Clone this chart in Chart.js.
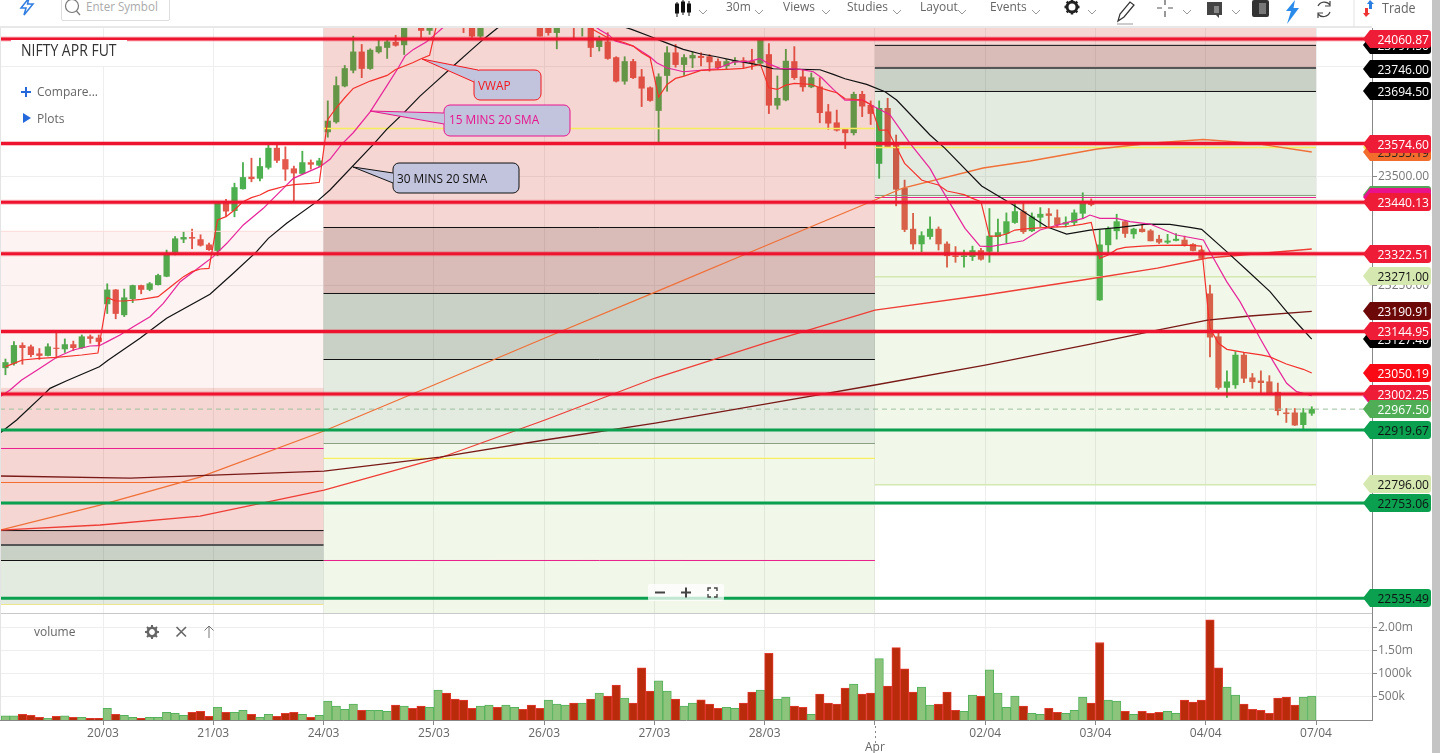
<!DOCTYPE html>
<html><head><meta charset="utf-8"><title>NIFTY APR FUT</title>
<script src="https://cdn.jsdelivr.net/npm/chart.js@4"></script>
<style>
html,body{margin:0;padding:0;background:#fff;width:1440px;height:753px;overflow:hidden;font-family:"Open Sans",sans-serif;color:#666}
#c{position:absolute;left:0;top:0}
.t{position:absolute;white-space:nowrap;font-size:12px;line-height:16px;color:#666;transform:scaleY(1.1);transform-origin:0 50%}
.i{position:absolute;overflow:visible}
#bar{position:absolute;left:1432px;top:0;width:8px;height:753px;background:#c4c4c4}
#tile{position:absolute;left:11px;top:40px;width:116px;height:26px;background:#fff}
#sb{position:absolute;left:61px;top:-6px;width:107px;height:25px;border:1px solid #ddd;border-radius:2px;background:#fff}
#zoomc{position:absolute;left:648px;top:584px;width:76px;height:17px;background:rgba(255,255,255,.75);border-radius:2px}
</style></head><body>
<canvas id="c" width="1440" height="753"></canvas>
<div id="bar"></div>
<div id="sb"></div>
<svg class="i" style="left:18px;top:-3px" width="18" height="20" viewBox="0 0 18 20"><path d="M11 1 L3 11 H8 L6 18 L15 7 H9.5 Z" fill="none" stroke="#2f7de1" stroke-width="1.5"/></svg>
<svg class="i" style="left:64px;top:-2px" width="18" height="18" viewBox="0 0 18 18"><circle cx="8" cy="8" r="6.5" fill="none" stroke="#777" stroke-width="1.2"/><path d="M12.5 13 L16 17" stroke="#777" stroke-width="1.2"/></svg>
<div class="t" style="left:86px;top:-1px;color:#aaa;font-size:11.6px">Enter Symbol</div>
<svg class="i" style="left:674px;top:0" width="18" height="18" viewBox="0 0 18 18"><g fill="#111" stroke="#111"><path d="M3 2V17M9 0V15M15 1V16" fill="none" stroke-width="1"/><rect x="1.5" y="4" width="3" height="9"/><rect x="7.5" y="2" width="3" height="10"/><rect x="13.5" y="4" width="3" height="8"/></g></svg>
<div class="t" style="left:726px;top:-1px">30m</div>
<div class="t" style="left:783px;top:-1px">Views</div>
<div class="t" style="left:847px;top:-1px">Studies</div>
<div class="t" style="left:920px;top:-1px">Layout</div>
<div class="t" style="left:990px;top:-1px">Events</div>
<div class="t" style="left:1382px;top:1px;font-size:12.5px">Trade</div>
<svg class="i" style="left:0;top:0" width="1440" height="28">
<g fill="none" stroke="#999" stroke-width="1"><path d="M699 10l4 4 4-4M755 10l4 4 4-4M822 10l4 4 4-4M893 10l4 4 4-4M958 10l4 4 4-4M1032 10l4 4 4-4M1088 10l4 4 4-4M1183 10l4 4 4-4M1232 10l4 4 4-4"/></g>
<g transform="translate(1072,7)"><circle r="5" fill="none" stroke="#222" stroke-width="3"/><path d="M0-7.5V-5M0 5V7.5M-7.5 0H-5M5 0H7.5M-5.3-5.3L-3.5-3.5M3.5 3.5L5.3 5.3M-5.3 5.3L-3.5 3.5M3.5-3.5L5.3-5.3" stroke="#222" stroke-width="2.4"/></g>
<path d="M1118 21L1120 14L1130 2L1134 5L1124 17Z" fill="none" stroke="#333" stroke-width="1.2"/><path d="M1117 24H1133" stroke="#bbb" stroke-width="1.5"/>
<path d="M1165 0V5M1165 11V17M1157 8H1162M1168 8H1173" stroke="#555" stroke-width="1.2"/>
<path d="M1207 2H1222V15H1219V18L1216 15H1207Z" fill="#444"/><rect x="1214" y="6" width="5" height="7" fill="#888"/>
<rect x="1252" y="0" width="17" height="17" rx="2" fill="#333"/><rect x="1259" y="3" width="7" height="11" fill="#777"/>
<path d="M1295 0L1286 11H1291L1287 24L1299 8H1293.5Z" fill="#2a8bea"/>
<g fill="none" stroke="#444" stroke-width="1.2"><path d="M1318 6A7 7 0 0 1 1330 5M1330 1V6H1325"/><path d="M1330 12A7 7 0 0 1 1318 14M1318 18V13H1323"/></g>
<path d="M1354 0V27" stroke="#e3e3e3"/>
<path d="M1370 0L1367 4H1369V9H1372V4H1374Z" fill="#2a7de1"/><path d="M1366 17L1363 13H1365V8H1368V13H1370Z" fill="#e33"/>
</svg>
<div id="tile"></div>
<div class="t" style="left:21px;top:42px;font-size:14px;color:#333">NIFTY APR FUT</div>
<svg class="i" style="left:20px;top:86px" width="12" height="12"><path d="M6 1V11M1 6H11" stroke="#2468dc" stroke-width="2"/></svg>
<div class="t" style="left:37px;top:84px">Compare...</div>
<svg class="i" style="left:22px;top:112px" width="10" height="12"><path d="M1 1L9 6L1 11Z" fill="#2468dc"/></svg>
<div class="t" style="left:37px;top:111px">Plots</div>
<div class="t" style="left:34px;top:624px">volume</div>
<svg class="i" style="left:0;top:620px" width="230" height="24">
<g transform="translate(152,12)"><circle r="4.2" fill="none" stroke="#666" stroke-width="2.6"/><path d="M0-7V-4.5M0 4.5V7M-7 0H-4.5M4.5 0H7M-5-5L-3.3-3.3M3.3 3.3L5 5M-5 5L-3.3 3.3M3.3-3.3L5-5" stroke="#666" stroke-width="2"/></g>
<path d="M176.5 7L186 16.5M186 7L176.5 16.5" stroke="#666" stroke-width="1.6"/>
<path d="M209 18V6M204.5 10.5L209 6L213.500 10.5" fill="none" stroke="#777" stroke-width="1"/>
</svg>
<div id="zoomc"></div>
<svg class="i" style="left:648px;top:584px" width="76" height="17">
<path d="M7 8.500H17M33 8.500H43M38 3.500V13.500" stroke="#444" stroke-width="2"/>
<path d="M60 7V4H63M66 4H69V7M69 10V13H66M63 13H60V10" fill="none" stroke="#444" stroke-width="1.4"/>
</svg>
<script>
// ---------- candles, one per 30-minute bar ----------
const cOpen=[23062,23072,23113,23110,23094,23090,23107,23105,23115,23108,23133,23130,
23208,23240,23183,23220,23250,23241,23252,23271,23326,23356,23360,23355,23343,
23330,23442,23421,23471,23498,23495,23520,23564,23538,23517,23506,23531,23525,
23601,23624,23706,23742,23784,23746,23784,23794,23806,23800,23868,23855,23833,
23858,23878,23862,23860,23850,23820,23852,23866,23856,23870,23858,23868,23852,
23840,23828,23860,23862,23850,23868,23796,23807,23771,23717,23762,23727,23702,
23650,23730,23782,23755,23770,23774,23773,23762,23752,23761,23764,23763,23758,
23778,23662,23674,23762,23727,23704,23704,23647,23622,23608,23599,23687,23662,
23529,23655,23575,23472,23379,23345,23362,23379,23345,23318,23316,23316,23330,
23328,23362,23369,23394,23419,23375,23406,23414,23405,23390,23394,23415,23439,
23217,23343,23375,23396,23368,23379,23375,23356,23349,23353,23354,23344,23331,
23231,23133,23017,23023,23091,23039,23032,23030,23006,22959,22959,22932,22958];
const cClose=[23074,23113,23108,23092,23090,23110,23106,23115,23108,23133,23129,23122,
23240,23186,23222,23250,23241,23254,23273,23321,23357,23360,23358,23342,23332,
23438,23420,23474,23497,23494,23522,23564,23536,23516,23507,23531,23527,23535,
23626,23707,23746,23784,23746,23788,23796,23807,23799,23850,23852,23833,23858,
23878,23862,23872,23848,23820,23852,23866,23856,23870,23858,23868,23852,23820,
23828,23846,23848,23850,23868,23794,23813,23769,23717,23762,23725,23701,23673,
23727,23782,23755,23771,23776,23771,23761,23748,23762,23763,23762,23758,23811,
23662,23678,23763,23725,23704,23725,23645,23621,23605,23599,23687,23660,23643,
23655,23567,23470,23378,23345,23364,23379,23345,23318,23316,23318,23330,23310,
23363,23371,23396,23419,23373,23407,23413,23410,23389,23394,23416,23438,23435,
23343,23379,23396,23369,23379,23373,23352,23349,23352,23356,23343,23330,23312,
23132,23017,23030,23091,23038,23030,23028,23004,22964,22957,22931,22959,22967.5];
const cHigh=[23082,23122,23119,23114,23106,23117,23144,23128,23123,23137,23137,23137,
23254,23241,23242,23251,23251,23257,23276,23331,23362,23373,23379,23366,23347,
23442,23447,23484,23531,23541,23541,23571,23574,23567,23523,23557,23537,23541,
23672,23727,23753,23820,23801,23791,23811,23811,23822,23860,23880,23860,23866,
23885,23888,23880,23868,23855,23858,23872,23874,23878,23876,23874,23872,23860,
23850,23856,23866,23868,23872,23872,23820,23828,23773,23773,23767,23744,23704,
23734,23796,23801,23778,23784,23782,23778,23768,23767,23771,23771,23790,23814,
23803,23729,23790,23796,23744,23736,23725,23664,23651,23608,23692,23694,23672,
23672,23678,23594,23491,23415,23373,23407,23384,23350,23339,23331,23340,23335,
23426,23402,23416,23439,23438,23416,23428,23426,23423,23407,23423,23462,23448,
23377,23384,23413,23398,23381,23388,23378,23365,23367,23369,23363,23346,23333,
23251,23145,23055,23099,23097,23049,23055,23044,23027,22969,22969,22969,22973];
const cLow=[23046,23068,23070,23087,23081,23089,23084,23097,23101,23106,23118,23114,
23186,23174,23179,23211,23231,23238,23251,23270,23320,23348,23334,23340,23330,
23318,23409,23407,23470,23487,23489,23516,23531,23490,23442,23505,23516,23522,
23589,23621,23704,23736,23725,23744,23781,23769,23797,23778,23845,23817,23824,
23852,23855,23850,23828,23817,23813,23845,23846,23850,23850,23848,23842,23820,
23822,23791,23840,23814,23820,23773,23786,23767,23715,23710,23723,23659,23671,
23578,23694,23749,23730,23748,23752,23740,23746,23744,23755,23748,23744,23755,
23643,23653,23672,23721,23694,23702,23622,23607,23603,23563,23594,23636,23618,
23495,23566,23432,23373,23333,23327,23356,23331,23292,23303,23292,23307,23308,
23303,23327,23348,23392,23369,23373,23384,23381,23384,23384,23388,23404,23432,
23216,23322,23356,23360,23358,23372,23352,23346,23346,23352,23340,23329,23310,
23087,23013,22994,23015,23028,23015,23004,23002,22954,22937,22930,22920,22953];
// ---------- volume ----------
const volume=[88,88,124,102,59,37,81,88,59,59,37,37,
256,124,102,59,37,59,59,168,146,102,168,190,81,
278,168,168,212,124,59,124,81,146,168,124,59,102,
410,300,234,344,212,212,212,190,322,300,256,300,278,
651,586,454,432,256,300,322,278,322,278,234,322,256,
432,344,322,366,366,454,586,520,761,476,366,1135,630,
849,630,454,300,366,439,344,256,278,256,366,608,651,
1449,454,498,300,278,124,564,366,344,695,783,564,586,
1332,739,1574,1113,608,717,322,344,608,212,190,542,520,
1091,586,278,520,300,146,124,256,168,146,212,498,366,
1684,432,410,190,124,190,146,168,190,146,432,388,432,
2174,1135,717,542,344,234,212,146,476,498,322,498,520];
const volSide=("GGRRRGRGRGRR"+"GRGGRGGGGGRRR"+"GRGGRGGRRRGRG"+"GGGGRGGGRGRRG"+"GRRRRGGRGGRRR"+"GGGRGRGRRGRRR"+"GGRGGRRRGGRRG"+"RGGRRGRRRRGRR"+"GRRRRGGRRRGGR"+"GGGGRGGRRGGGR"+"RGGRGRRRGGRRR"+"RRGGRRRRRRRGG").split("");
// ---------- indicators: bar position / price ----------
const vwapX=[0.5,1.5,2.5,4.5,6.5,9.5,11.4,12.5,13.5,14.5,16.5,18.5,19.5,20.5,21.5,22.5,23.5,24.5,25.5,26.5,27.5,28.5,29.5,30.5,31.5,32.5,33.5,34.5,36.5,37.5,38.5,39.5,40.5,41.5,43.5,45.5,46.5,48.5,49.5,50.5,51.5,54.5,57.5,60.5,63.5,64.5,67.5,69.5,71.5,72.5,73.5,74.5,75.5,76.5,77.5,78.5,79.5,80.5,82.5,85.5,87.5,89.5,90.5,91.5,92.5,93.5,95.5,96.5,97.5,98.5,99.5,100.5,101.5,102.5,103.5,104.5,105.5,106.5,107.5,108.5,109.5,110.5,111.5,112.5,113.5,114.5,115.5,116.5,117.5,118.5,119.5,120.5,121.5,123.5,125.5,127.5,128.5,129.5,130.5,131.5,132.5,134.5,136.5,139.5,141.5,142.5,143.5,144.5,146.5,148.5,149.5,151.5,153.5,154.5];
const vwapY=[23064.5,23072,23079.8,23083.6,23085.9,23091.2,23095.8,23222.3,23214.6,23214.6,23218.4,23224.5,23239.8,23255,23270.3,23281.7,23287.8,23289.3,23399.8,23407.4,23422.7,23441.7,23450.9,23457,23466.9,23472.2,23477.5,23480.6,23483.6,23485.9,23629.6,23656.3,23679.2,23700.5,23717.3,23730.2,23743.9,23759.2,23768.3,23776,23860,23862,23868,23866,23860,23858,23850,23838,23816.3,23810.2,23804.9,23797.3,23782,23770.6,23680.7,23709.7,23723.4,23728.7,23741.7,23744,23746.2,23755.4,23702,23698.2,23708.1,23712,23709.7,23702,23696,23690.6,23676.9,23675.4,23673.8,23664,23605.4,23605.4,23567.3,23529.2,23510.2,23491.1,23485,23479.7,23466,23462.1,23457.6,23449.2,23441.6,23363.1,23363.1,23367.7,23376.8,23379.1,23380.6,23382.9,23384.4,23390.5,23394.3,23312,23319.7,23332.6,23337.2,23340.2,23341.7,23342.5,23340.2,23152.2,23117.9,23104.2,23097.3,23091.3,23087.4,23070.7,23058.5,23050.19];
const sma15X=[-0.14,1.04,2.41,4.57,6.54,8.5,10.47,11.57,12.5,14,15.57,17.54,19.11,21.1,23.43,25,26.6,28.54,30.9,33.26,34.44,37.58,38.76,40.13,41.5,43.47,45.44,46.81,47.6,48.6,50.15,50.94,51.92,54,60,64,68,70.59,71.69,72.36,74.52,76.48,77.27,78.45,80.41,82.38,84.34,86.31,88.27,89.45,90.63,91.81,94.17,95.74,96.72,98.09,99.47,101.63,102.61,103.6,104.78,107.14,109.49,110.47,111.85,113.62,115.39,116.57,120.5,122.46,125.6,127.57,128.35,129.53,131.5,133.07,135.43,138.57,141.72,142.7,144.47,146.04,148.4,149.97,151.54,152.72,154.49];
const sma15Y=[22996,23011.2,23034,23060.7,23085.9,23102.6,23111.8,23112.5,23121.7,23136.9,23156,23178.8,23209.3,23258.8,23293.1,23316,23346.5,23388.4,23426.5,23472.2,23495,23521.7,23538.5,23572.5,23599.2,23646.4,23705.8,23747.8,23774.4,23789.7,23807.2,23820.1,23836.9,23870,23890,23885,23870,23833.9,23821.7,23808.7,23797.3,23772.9,23759.2,23747.8,23738.6,23741.7,23745.5,23760.7,23763,23768.3,23755.4,23746.2,23743.9,23738.6,23724.9,23698.2,23673.8,23673.8,23661.6,23652.5,23639.7,23574.9,23517.8,23483.5,23437.8,23380.6,23340.2,23338.7,23352.4,23376.8,23393.6,23403.5,23411.1,23403.5,23403.5,23395.9,23390.5,23365.4,23354,23319.9,23258.9,23213.2,23129.3,23076,23026.5,23007.4,22998.3];
const sma30X=[-0.14,1.82,4.97,5.75,7.72,11.57,12.63,16.36,19.5,24.61,27.36,30.11,31.49,33.65,37.2,38.76,43.87,45.44,47.4,49.37,51.33,53.3,55.26,56.83,58.4,60,64,67,70,72,74.32,76.68,77.66,80.41,82.38,84.34,86.31,89.45,91.02,94.17,96.52,98.09,99.47,102.03,104.19,105.56,109.49,111.26,115.58,119.32,123.25,125.6,128.35,131.89,135.03,137.78,140.14,141.52,144.47,146.83,149.58,151.54,153.51,154.49];
const sma30Y=[22912.9,22942.6,23000,23015,23032.5,23064.5,23079.8,23129.3,23175,23229.9,23277.9,23327.4,23357.9,23392.2,23441.7,23468.4,23572.5,23606.8,23643.4,23683,23717.3,23751.6,23785.8,23812.5,23836.9,23860,23885,23880,23868,23850,23835.4,23817.9,23810.2,23789.7,23779.8,23772.9,23764.5,23753.8,23745.5,23743.9,23743.2,23732.5,23722.6,23709.7,23693,23674,23594,23563.5,23477.4,23434,23384.4,23367.7,23376.8,23382.9,23390.5,23389.8,23382.9,23378.3,23327.5,23285.6,23236,23190.3,23148.4,23127.4];
const orangeX=[-0.14,11.65,23.43,38.05,51,64.1,77.1,90.04,103,106.3,115.75,121.3,129.2,135.8,141.7,147.6,154.5];
const orangeY=[22691,22748.3,22812.3,22917.5,23022.6,23130,23235,23340.3,23445.5,23472.9,23518.6,23534.6,23562,23575.7,23583.7,23575.7,23555.19];
const redX=[-0.14,11.65,23.43,38.05,51.7,64.1,77.1,90.04,103,116,127.5,136.3,142.2,154.5];
const redY=[22691,22702.6,22723,22782.6,22855.8,22942.6,23038.6,23118.6,23194,23228.3,23262.6,23290,23312.9,23333.5];
const brownX=[-0.14,15.2,38.05,51.7,64.1,77.1,90.04,103,116,128.4,136.3,142.2,147.2,154.5];
const brownY=[22814.6,22810,22826,22858,22896.9,22935.7,22979,23022.6,23068.3,23116.3,23148.3,23171,23180.3,23190.91];
// ---------- axes ----------
const tickBars=[12,25,38,51,64,77,90,103,116,129,142,155];
const tickLabels=["20/03","21/03","24/03","25/03","26/03","27/03","28/03",["","Apr"],"02/04","03/04","04/04","07/04"];
const priceTicks=[23750,23500,23250,23000,22750];
const volTicks=[500000,1000000,1500000,2000000];
const volTickLabels=["500k","1000k","1.50m","2.00m"];
const xMin=-0.143, xMax=161.6, priceMax=23838.6, priceMin=22501.5, volMax=2325000;
// ---------- horizontal levels drawn across the chart ----------
const redLevels=[23813.5,23574.60,23440.13,23322.51,23144.95,23002.25];
const greenLevels=[22919.67,22753.06,22535.49];
const lastPrice=22967.50;
// ---------- shaded sessions ----------
const bandFrom=[-0.143,-0.143,-0.143,-0.143,-0.143, 38,38,38,38,38, 103,103,103,103,103];
const bandTo=[38,38,38,38,38, 103,103,103,103,103, 155,155,155,155,155];
const bandHigh=[23375,23016,22691,22657,22623, 23838.6,23384,23233,23082,22890, 23838.6,23800,23747,23694.6,23457];
const bandLow=[23016,22691,22657,22623,22522, 23384,23233,23082,22890,22501.5, 23800,23747,23694.6,23457,22796];
const bandFill=["rgba(205,50,35,.06)","rgba(205,50,35,.2)","rgba(130,30,20,.3)","rgba(60,90,50,.28)","rgba(60,110,40,.14)",
"rgba(205,50,35,.2)","rgba(130,30,20,.3)","rgba(60,90,50,.28)","rgba(60,110,40,.14)","rgba(120,190,50,.1)",
"rgba(205,50,35,.2)","rgba(130,30,20,.3)","rgba(60,90,50,.28)","rgba(60,110,40,.14)","rgba(120,190,50,.1)"];
// ---------- session pivot segments ----------
const segFrom=[-0.143,-0.143,-0.143,-0.143,-0.143,-0.143,-0.143, 38,38,38,38,38,38,38, 103,103,103,103,103,103,103,103];
const segTo=[38,38,38,38,38,38,38, 103,103,103,103,103,103,103, 155,155,155,155,155,155,155,155];
const segPrice=[23373.9,22877.5,22799.8,22689.9,22656.9,22621.5,22520.9, 23608.9,23382.6,23231.8,23080.9,22888.9,22854.9,22621.5, 23798.9,23747,23693.5,23565.5,23455.9,23451.2,23269.9,22794.9];
const segColor=["#fbdcd8","#e91e8c","#f26c2c","#111","#555","#111","#ece68c", "#f7ee5e","#111","#111","#111","#8aa080","#f7ee5e","#e91e8c", "#111","#555","#111","#f7ee5e","#7f9c76","#e91e8c","#d5e8b0","#d5e8b0"];
const segWidth=[1,1,1,1,2,1,1, 1.5,1,1,1,1,1.2,1, 1,2,1,1.5,1,1,1.5,1.5];
// ---------- price tags on the right ----------
const tagPrice=[23800,23746,23694.5,23566.6,23555.19,23457,23452.3,23190.91,23127.4,23271,23050.19,22998.3,23813.5,23574.6,23440.13,23322.51,23144.95,23002.25,22967.5,22919.67,22796,22753.06,22535.49];
const tagText=["23797.50","23746.00","23694.50","23566.60","23555.19","23457.00","23452.30","23190.91","23127.40","23271.00","23050.19","22998.30","24060.87","23574.60","23440.13","23322.51","23144.95","23002.25","22967.50","22919.67","22796.00","22753.06","22535.49"];
const tagFill=["#000","#000","#000","#f4ee5a","#f26c2c","#5aa35a","#e9118c","#6d0808","#000","#d5e8b0","#fa0a14","#e9118c","#ee1c36","#ee1c36","#ee1c36","#ee1c36","#ee1c36","#ee1c36","#4fae55","#0aa04f","#d5e8b0","#0aa04f","#0aa04f"];
const tagInk=["#fff","#fff","#fff","#222","#222","#fff","#fff","#fff","#fff","#111","#fff","#fff","#fff","#fff","#fff","#fff","#fff","#fff","#fff","#111","#111","#111","#111"];

const pts=(xs,ys)=>xs.map((x,i)=>({x,y:ys[i]}));
const lineDs=(data,color,width,order,extra)=>Object.assign({type:"line",data,borderColor:color,borderWidth:width,pointRadius:0,tension:0,order,xAxisID:"x",yAxisID:"y",fill:false},extra||{});
const datasets=[];
datasets.push({type:"bar",label:"wick",data:cOpen.map((o,i)=>({x:i+.5,y:[cLow[i],cHigh[i]]})),barThickness:1.2,grouped:false,order:21,yAxisID:"y",
  backgroundColor:c=>cClose[c.dataIndex]>=cOpen[c.dataIndex]?"#4caf50":"#e4574c"});
datasets.push({type:"bar",label:"body",data:cOpen.map((o,i)=>({x:i+.5,y:[o,cClose[i]]})),barThickness:5.6,grouped:false,order:20,yAxisID:"y",
  backgroundColor:c=>cClose[c.dataIndex]>=cOpen[c.dataIndex]?"#4caf50":"#e4574c"});
const BODY=datasets.length-1;
datasets.push({type:"bar",label:"volume",data:volume.map((v,i)=>({x:i+.5,y:v*1000})),barThickness:8.5,grouped:false,order:19,yAxisID:"v",borderWidth:1,
  backgroundColor:c=>volSide[c.dataIndex]==="G"?"#8cc47c":"#b92b0b",
  borderColor:c=>volSide[c.dataIndex]==="G"?"#55b25c":"#e2392f"});
segPrice.forEach((p,i)=>datasets.push(lineDs([{x:segFrom[i],y:p},{x:segTo[i],y:p}],segColor[i],segWidth[i],10)));
datasets.push(lineDs([{x:xMin,y:lastPrice},{x:xMax,y:lastPrice}],"#9dbf9d",1,9,{borderDash:[5,4]}));
datasets.push(lineDs(pts(orangeX,orangeY),"#f07038",1.3,8));
datasets.push(lineDs(pts(redX,redY),"#ef3e36",1.3,7));
datasets.push(lineDs(pts(brownX,brownY),"#7a1a18",1.3,6));
datasets.push(lineDs(pts(sma30X,sma30Y),"#111",1.2,5));
datasets.push(lineDs(pts(sma15X,sma15Y),"#e8239a",1.2,4));
datasets.push(lineDs(pts(vwapX,vwapY),"#f5312c",1.2,3));
redLevels.forEach(p=>datasets.push(lineDs([{x:xMin,y:p},{x:xMax,y:p}],"rgba(238,20,48,.28)",5,2)));
redLevels.forEach(p=>datasets.push(lineDs([{x:xMin,y:p},{x:xMax,y:p}],"#ee1430",3,1)));
greenLevels.forEach(p=>datasets.push(lineDs([{x:xMin,y:p},{x:xMax,y:p}],"#0aa04f",3,1)));

const bandsPlugin={id:"bands",afterDatasetDraw(chart,args){
  if(args.index!==BODY) return;
  const c=chart.ctx,xs=chart.scales.x,ys=chart.scales.y;
  c.save();
  bandFill.forEach((f,i)=>{
    const x0=xs.getPixelForValue(bandFrom[i]),x1=xs.getPixelForValue(bandTo[i]);
    const y0=ys.getPixelForValue(bandHigh[i]),y1=ys.getPixelForValue(bandLow[i]);
    c.fillStyle=f;c.fillRect(x0,y0,x1-x0,y1-y0);
  });
  c.restore();
}};
const callouts=[
 {text:"VWAP",color:"#f5171c",x:474,y:70,w:67,h:30,tx:422,ty:59,a:[478,70],b:[474,82],lx:478,ly:85},
 {text:"15 MINS 20 SMA",color:"#e8148c",x:444,y:105,w:126,h:31,tx:370,ty:111,a:[444,113],b:[444,124],lx:449,ly:119},
 {text:"30 MINS 20 SMA",color:"#111",x:393,y:163,w:126,h:30,tx:353,ty:167,a:[393,173],b:[393,183],lx:397,ly:178}];
function narrowText(c,text,x,y,sx){c.save();c.translate(x,y);c.scale(sx,1);c.fillText(text,0,0);c.restore();}
const overlayPlugin={id:"overlay",afterDraw(chart){
  const c=chart.ctx,ys=chart.scales.y;
  c.save();
  // pane frame
  c.fillStyle="#e8e8e8";c.fillRect(0,26,1372,2);
  c.fillStyle="#c9c9c9";c.fillRect(0,613,1372,1);
  c.fillStyle="#e4e4e4";c.fillRect(0,28,1,692);
  // dotted month tick
  c.strokeStyle="#888";c.setLineDash([2,3]);c.beginPath();c.moveTo(875.5,726);c.lineTo(875.5,744);c.stroke();c.setLineDash([]);
  // tags
  c.font='13px "Open Sans"';c.textBaseline="middle";c.textAlign="right";
  tagPrice.forEach((p,i)=>{
    const y=Math.round(ys.getPixelForValue(p));
    c.fillStyle=tagFill[i];c.beginPath();
    c.moveTo(1363,y);c.lineTo(1370,y-9);c.lineTo(1428,y-9);c.quadraticCurveTo(1431,y-9,1431,y-6);
    c.lineTo(1431,y+6);c.quadraticCurveTo(1431,y+9,1428,y+9);c.lineTo(1370,y+9);c.closePath();c.fill();
    c.fillStyle=tagInk[i];narrowText(c,tagText[i],1429,y+1,.93);
  });
  // callouts
  c.textAlign="left";c.font='13px "Open Sans"';
  callouts.forEach(n=>{
    c.beginPath();c.roundRect(n.x,n.y,n.w,n.h,6);
    c.fillStyle="#c2c3dd";c.fill();c.strokeStyle=n.color;c.lineWidth=1;c.stroke();
    c.beginPath();c.moveTo(n.a[0],n.a[1]);c.lineTo(n.tx,n.ty);c.lineTo(n.b[0],n.b[1]);c.closePath();c.fill();
    c.beginPath();c.moveTo(n.a[0],n.a[1]);c.lineTo(n.tx,n.ty);c.lineTo(n.b[0],n.b[1]);c.stroke();
    c.fillStyle=n.color;narrowText(c,n.text,n.lx,n.ly+1,.91);
  });
  c.restore();
}};
const axisFont={family:'"Open Sans"',size:12};
new Chart(document.getElementById("c"),{
  type:"bar",
  data:{datasets},
  options:{
    responsive:false,animation:false,events:[],
    layout:{padding:{top:28,left:0,right:0,bottom:0}},
    plugins:{legend:{display:false},tooltip:{enabled:false}},
    scales:{
      x:{type:"linear",min:xMin,max:xMax,offset:false,
        grid:{offset:false,color:"#eeeeee",tickColor:"#888",tickLength:5,drawTicks:true},
        border:{color:"#888"},
        afterBuildTicks:a=>{a.ticks=tickBars.map(v=>({value:v}));},
        afterFit:a=>{a.height=33;},
        ticks:{autoSkip:false,maxRotation:0,padding:1,color:"#666",font:axisFont,callback:(v,i)=>tickLabels[i]}},
      y:{type:"linear",position:"right",stack:"panes",stackWeight:585,min:priceMin,max:priceMax,
        grid:{color:"#eeeeee",tickColor:"#888",tickLength:5},border:{color:"#888"},
        afterBuildTicks:a=>{a.ticks=priceTicks.map(v=>({value:v}));},
        afterFit:a=>{a.width=68;},
        ticks:{autoSkip:false,padding:1,color:"#777",font:axisFont,callback:v=>Number(v).toFixed(2)}},
      v:{type:"linear",position:"right",stack:"panes",stackWeight:107,min:0,max:volMax,
        grid:{color:"#eeeeee",tickColor:"#888",tickLength:5},border:{color:"#888"},
        afterBuildTicks:a=>{a.ticks=volTicks.map(v=>({value:v}));},
        afterFit:a=>{a.width=68;},
        ticks:{autoSkip:false,padding:1,color:"#777",font:axisFont,callback:(v,i)=>volTickLabels[i]}}
    }
  },
  plugins:[bandsPlugin,overlayPlugin]
});
</script>
</body></html>
